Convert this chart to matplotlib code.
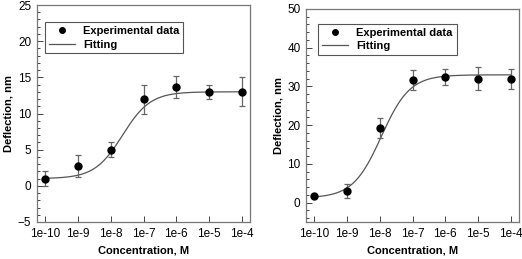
import numpy as np
import matplotlib.pyplot as plt
from matplotlib.lines import Line2D
from matplotlib.ticker import AutoMinorLocator, FixedLocator, LogLocator, NullFormatter

plt.rcParams['font.family'] = ['Liberation Sans', 'DejaVu Sans']

conc = [1e-10, 1e-9, 1e-8, 1e-7, 1e-6, 1e-5, 1e-4]
tick_labels = ['1e-10', '1e-9', '1e-8', '1e-7', '1e-6', '1e-5', '1e-4']

# left panel
defl_a = [1.0, 2.7, 5.0, 12.0, 13.7, 13.0, 13.0]
err_a = [1.0, 1.5, 1.0, 2.0, 1.5, 1.0, 2.0]
fit_a = dict(bottom=1.0, top=13.0, logx0=-7.64, slope=1.02)
yticks_a = [-5, 0, 5, 10, 15, 20, 25]

# right panel
defl_b = [1.7, 3.0, 19.3, 31.7, 32.4, 32.0, 32.0]
err_b = [0.3, 1.7, 2.5, 2.5, 2.1, 3.0, 2.6]
fit_b = dict(bottom=1.2, top=33.0, logx0=-7.95, slope=1.0)
yticks_b = [0, 10, 20, 30, 40, 50]


def hill(x, bottom, top, logx0, slope):
    return bottom + (top - bottom) / (1 + 10 ** ((logx0 - np.log10(x)) * slope))


fig = plt.figure(figsize=(5.22, 2.59), dpi=100)
ax1 = fig.add_axes([37 / 522, 37 / 259, 213 / 522, 217 / 259])
ax2 = fig.add_axes([306 / 522, 37 / 259, 213 / 522, 213 / 259])

panels = [
    (ax1, defl_a, err_a, fit_a, (-5, 25), yticks_a, (0.037, 0.92)),
    (ax2, defl_b, err_b, fit_b, (-5, 50), yticks_b, (0.056, 0.93)),
]

xs = np.logspace(-10, -4, 300)
for ax, y, err, fit, ylim, yticks, leg_pos in panels:
    ax.errorbar(conc, y, yerr=err, fmt='o', color='black', ms=5,
                ecolor='#666666', elinewidth=0.9, capsize=2, capthick=0.9,
                zorder=3)
    ax.plot(xs, hill(xs, **fit), color='#555555', lw=0.9)

    ax.set_xscale('log')
    ax.set_xlim(10 ** -10.25, 10 ** -3.75)
    ax.set_ylim(*ylim)
    ax.xaxis.set_major_locator(FixedLocator(conc))
    ax.set_xticklabels(tick_labels)
    ax.xaxis.set_minor_locator(LogLocator(base=10, subs=np.arange(2, 10)))
    ax.xaxis.set_minor_formatter(NullFormatter())
    ax.set_yticks(yticks)
    ax.yaxis.set_minor_locator(AutoMinorLocator(5))

    ax.tick_params(which='both', direction='in', colors='#444444',
                   labelcolor='black', labelsize=8.5, width=0.7)
    ax.tick_params(which='major', length=4, pad=4)
    ax.tick_params(which='minor', length=2)
    for s in ax.spines.values():
        s.set_color('#777777')
        s.set_linewidth(0.9)

    ax.set_xlabel('Concentration, M', fontsize=8, fontweight='bold', labelpad=4)
    ax.set_ylabel('Deflection, nm', fontsize=8, fontweight='bold', labelpad=3)

    handles = [
        Line2D([], [], ls='none', marker='o', color='black', ms=4),
        Line2D([], [], color='#555555', lw=0.9),
    ]
    leg = ax.legend(handles, ['Experimental data', 'Fitting'],
                    loc='upper left', bbox_to_anchor=leg_pos, borderaxespad=0,
                    fancybox=False, edgecolor='#555555', framealpha=1,
                    prop={'weight': 'bold', 'size': 8}, handlelength=2.4,
                    borderpad=0.35, labelspacing=0.3, handletextpad=0.7)
    leg.get_frame().set_linewidth(0.8)

fig.savefig('out.png', dpi=100)
